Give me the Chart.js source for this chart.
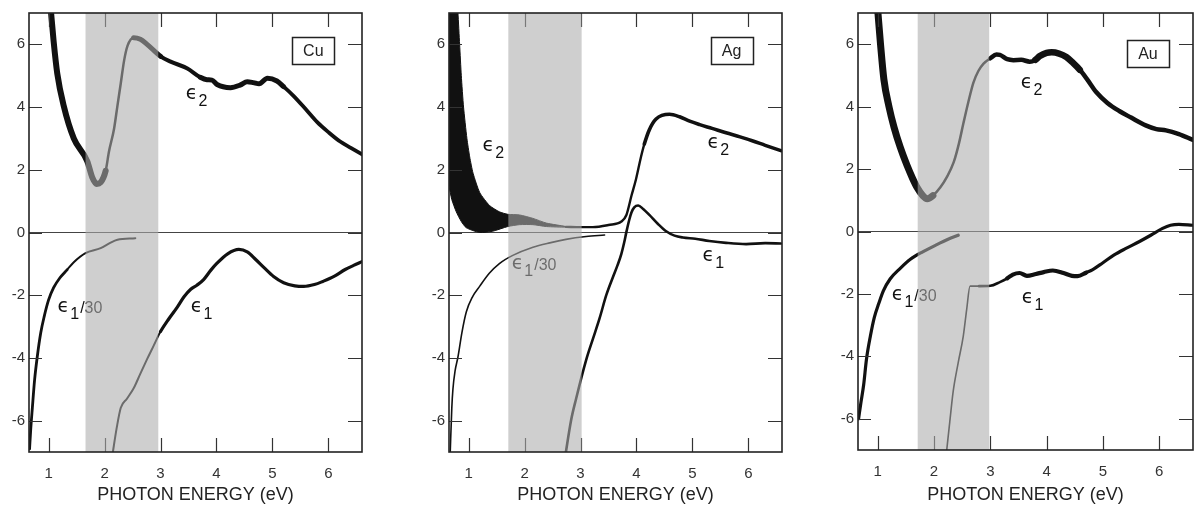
<!DOCTYPE html>
<html>
<head>
<meta charset="utf-8">
<script src="https://cdn.jsdelivr.net/npm/chart.js"></script>
<style>
  body { margin: 0; background: white; }
  #wrap { position: relative; width: 1203px; height: 511px; overflow: hidden; }
  canvas { position: absolute; top: 0; }
</style>
</head>
<body>
<div id="wrap">
  <canvas id="cu" width="400" height="511" style="left:0px"></canvas>
  <canvas id="ag" width="400" height="511" style="left:400px"></canvas>
  <canvas id="au" width="400" height="511" style="left:803px"></canvas>
</div>
<script>
// axis ticks
const energyTicks = [1, 2, 3, 4, 5, 6];
const epsTicks = [-6, -4, -2, 0, 2, 4, 6];

// ---- Cu ----
const cuE2Ev = [1.04, 1.09, 1.155, 1.27, 1.45, 1.69, 1.78, 1.86, 1.93, 2.02, 2.08, 2.17, 2.23, 2.29, 2.35, 2.41, 2.52, 2.64, 2.76, 3.0, 3.18, 3.48, 3.71, 3.83, 3.92, 4.01, 4.25, 4.42, 4.55, 4.66, 4.76, 4.91, 5.08, 5.2, 5.38, 5.6, 5.8, 6.0, 6.21, 6.4, 6.61];
const cuE2 = [7.1, 6.1, 5.07, 4.04, 3.0, 2.28, 1.76, 1.55, 1.6, 1.97, 2.59, 3.31, 4.04, 4.76, 5.49, 5.95, 6.21, 6.16, 6.0, 5.62, 5.45, 5.23, 4.95, 4.87, 4.86, 4.72, 4.62, 4.7, 4.81, 4.78, 4.74, 4.92, 4.83, 4.65, 4.35, 3.92, 3.52, 3.2, 2.9, 2.7, 2.48];
const cuE1d30Ev = [0.66, 0.68, 0.71, 0.75, 0.8, 0.86, 0.92, 1.0, 1.09, 1.2, 1.33, 1.45, 1.66, 1.93, 2.1, 2.23, 2.55];
const cuE1d30 = [-6.9, -6.3, -5.59, -4.7, -3.93, -3.2, -2.69, -2.15, -1.76, -1.45, -1.19, -0.95, -0.66, -0.5, -0.33, -0.23, -0.18];
const cuE1Ev = [2.14, 2.22, 2.29, 2.4, 2.52, 2.64, 2.76, 2.88, 3.0, 3.15, 3.3, 3.42, 3.54, 3.65, 3.77, 3.9, 4.01, 4.2, 4.4, 4.55, 4.7, 4.85, 5.02, 5.2, 5.4, 5.56, 5.75, 5.9, 6.1, 6.3, 6.45, 6.61];
const cuE1 = [-7.1, -6.2, -5.59, -5.3, -4.97, -4.5, -4.04, -3.6, -3.16, -2.75, -2.38, -2.05, -1.81, -1.68, -1.5, -1.2, -0.98, -0.68, -0.54, -0.62, -0.86, -1.12, -1.4, -1.6, -1.7, -1.72, -1.66, -1.56, -1.4, -1.18, -1.05, -0.92];

// ---- Ag ----
const agE2UpperEv = [0.65, 0.8, 0.81, 0.84, 0.87, 0.91, 0.97, 1.02, 1.08, 1.2, 1.375, 1.55, 1.7, 1.91, 2.15, 2.39, 2.74];
const agE2Upper = [10, 7.3, 7.0, 6.0, 5.0, 4.0, 3.0, 2.41, 1.89, 1.27, 0.86, 0.66, 0.58, 0.56, 0.45, 0.3, 0.19];
const agE2LowerEv = [0.65, 0.7, 0.78, 0.87, 0.96, 1.2, 1.43, 1.7, 1.91, 2.15, 2.39, 2.74];
const agE2Lower = [1.48, 1.05, 0.66, 0.35, 0.15, 0.0, 0.04, 0.19, 0.25, 0.25, 0.19, 0.17];
const agE2Ev = [2.74, 3.0, 3.22, 3.5, 3.73, 3.82, 3.91, 3.99, 4.08, 4.14, 4.23, 4.35, 4.59, 4.77, 4.95, 5.13, 5.35, 5.6, 5.85, 6.08, 6.3, 6.58];
const agE2 = [0.18, 0.17, 0.17, 0.24, 0.35, 0.56, 1.17, 1.69, 2.41, 2.82, 3.28, 3.62, 3.77, 3.69, 3.55, 3.44, 3.32, 3.18, 3.05, 2.92, 2.78, 2.61];
const agE1d30Ev = [0.67, 0.7, 0.72, 0.76, 0.81, 0.88, 0.96, 1.07, 1.2, 1.37, 1.55, 1.79, 2.15, 2.45, 2.74, 3.1, 3.43];
const agE1d30 = [-7.1, -5.6, -5.0, -4.4, -3.97, -3.2, -2.53, -2.05, -1.71, -1.3, -0.99, -0.73, -0.47, -0.33, -0.22, -0.13, -0.08];
const agE1Ev = [2.73, 2.83, 2.92, 3.1, 3.22, 3.34, 3.46, 3.58, 3.66, 3.73, 3.78, 3.82, 3.87, 3.91, 3.96, 4.03, 4.12, 4.23, 4.38, 4.53, 4.68, 4.83, 5.05, 5.3, 5.6, 5.96, 6.3, 6.58];
const agE1 = [-7.1, -6.0, -5.31, -4.07, -3.4, -2.74, -2.0, -1.42, -1.05, -0.68, -0.32, 0.02, 0.4, 0.64, 0.8, 0.86, 0.75, 0.56, 0.28, 0.04, -0.1, -0.16, -0.2, -0.27, -0.33, -0.37, -0.34, -0.35];

// ---- Au ----
const auE2Ev = [1.0, 1.05, 1.11, 1.2, 1.29, 1.4, 1.52, 1.62, 1.7, 1.8, 1.88, 1.98, 2.11, 2.23, 2.35, 2.44, 2.52, 2.61, 2.7, 2.79, 2.88, 3.0, 3.11, 3.17, 3.3, 3.41, 3.55, 3.7, 3.8, 3.88, 4.0, 4.09, 4.22, 4.35, 4.47, 4.59, 4.73, 4.88, 5.08, 5.29, 5.5, 5.76, 5.95, 6.12, 6.35, 6.59];
const auE2 = [7.1, 6.0, 4.87, 4.0, 3.34, 2.7, 2.12, 1.7, 1.41, 1.15, 1.05, 1.15, 1.41, 1.75, 2.22, 2.8, 3.45, 4.15, 4.77, 5.15, 5.38, 5.55, 5.67, 5.66, 5.52, 5.49, 5.5, 5.44, 5.5, 5.62, 5.72, 5.74, 5.7, 5.59, 5.4, 5.18, 4.85, 4.47, 4.12, 3.86, 3.65, 3.4, 3.28, 3.24, 3.12, 2.94];
const auE1d30Ev = [0.66, 0.7, 0.75, 0.8, 0.87, 0.94, 1.02, 1.1, 1.22, 1.4, 1.58, 1.8, 2.05, 2.25, 2.43];
const auE1d30 = [-6.0, -5.5, -4.92, -4.1, -3.35, -2.75, -2.3, -1.9, -1.52, -1.18, -0.89, -0.65, -0.42, -0.25, -0.12];
const auE1Ev = [2.22, 2.28, 2.34, 2.43, 2.52, 2.58, 2.64, 2.8, 3.0, 3.17, 3.3, 3.4, 3.52, 3.65, 3.81, 3.95, 4.11, 4.3, 4.45, 4.55, 4.7, 4.82, 5.0, 5.2, 5.4, 5.65, 5.85, 6.06, 6.2, 6.35, 6.59];
const auE1 = [-7.1, -6.1, -5.13, -4.2, -3.35, -2.5, -1.75, -1.75, -1.74, -1.62, -1.5, -1.38, -1.33, -1.42, -1.36, -1.3, -1.25, -1.33, -1.42, -1.43, -1.32, -1.22, -1.0, -0.75, -0.55, -0.32, -0.12, 0.1, 0.2, 0.23, 0.2];

const pts = (xs, ys) => xs.map((x, i) => ({ x: x, y: ys[i] }));

function curve(xs, ys, widthAt) {
  return {
    data: pts(xs, ys),
    showLine: true,
    pointRadius: 0,
    borderColor: '#111',
    borderWidth: 3,
    cubicInterpolationMode: 'monotone',
    borderCapStyle: 'round',
    borderJoinStyle: 'round',
    clip: 0,
    segment: { borderWidth: c => widthAt(c.p0.parsed.x) }
  };
}

// draws eps with a subscript and optional tail like "/30"
function drawEps(ctx, px, py, sub, tail) {
  ctx.fillStyle = '#111';
  ctx.textAlign = 'left';
  ctx.textBaseline = 'alphabetic';
  ctx.font = '19px "DejaVu Sans"';
  ctx.fillText('\u03F5', px, py);
  let w = ctx.measureText('\u03F5').width + 1;
  ctx.font = '16px "Liberation Sans"';
  ctx.fillText(sub, px + w, py + 7);
  w += ctx.measureText(sub).width;
  if (tail) ctx.fillText(tail, px + w + 1, py + 1);
}

const panelDecor = {
  id: 'panelDecor',
  afterDatasetsDraw(chart, args, o) {
    const ctx = chart.ctx, a = chart.chartArea;
    const x = chart.scales.x, y = chart.scales.y;
    ctx.save();
    o.labels.forEach(l => drawEps(ctx, x.getPixelForValue(l.x), y.getPixelForValue(l.y), l.sub, l.tail));

    // element name box
    const bx = x.getPixelForValue(o.box.x), by = y.getPixelForValue(o.box.y);
    ctx.strokeStyle = '#222';
    ctx.lineWidth = 1.5;
    ctx.strokeRect(Math.round(bx - 21) + 0.5, Math.round(by - 13.5) + 0.5, 42, 27);
    ctx.font = '16px "Liberation Sans"';
    ctx.fillStyle = '#222';
    ctx.textAlign = 'center';
    ctx.textBaseline = 'middle';
    ctx.fillText(o.name, bx, by + 1);

    // inward ticks on all four sides
    ctx.strokeStyle = '#333';
    ctx.lineWidth = 1.2;
    ctx.beginPath();
    energyTicks.forEach(v => {
      const px = Math.round(x.getPixelForValue(v)) + 0.5;
      ctx.moveTo(px, a.top); ctx.lineTo(px, a.top + 14);
      ctx.moveTo(px, a.bottom); ctx.lineTo(px, a.bottom - 14);
    });
    epsTicks.forEach(v => {
      const py = Math.round(y.getPixelForValue(v)) + 0.5;
      ctx.moveTo(a.left, py); ctx.lineTo(a.left + 13, py);
      ctx.moveTo(a.right, py); ctx.lineTo(a.right - 14, py);
    });
    ctx.stroke();

    // visible-light band laid over the curves
    const b0 = x.getPixelForValue(o.band[0]), b1 = x.getPixelForValue(o.band[1]);
    ctx.fillStyle = 'rgba(172,172,172,0.58)';
    ctx.fillRect(b0, a.top, b1 - b0, a.bottom - a.top);

    // frame
    ctx.strokeStyle = '#222';
    ctx.lineWidth = 1.6;
    ctx.strokeRect(a.left, a.top, a.right - a.left, a.bottom - a.top);
    ctx.restore();
  }
};

function makePanel(id, cfg) {
  new Chart(document.getElementById(id), {
    type: 'scatter',
    data: { datasets: cfg.datasets },
    options: {
      responsive: false,
      animation: false,
      events: [],
      layout: { padding: { top: cfg.top, right: cfg.right, left: 0, bottom: 0 } },
      plugins: {
        legend: { display: false },
        tooltip: { enabled: false },
        panelDecor: { band: cfg.band, labels: cfg.labels, box: cfg.box, name: cfg.name }
      },
      scales: {
        x: {
          type: 'linear', min: 0.65, max: 6.6,
          afterBuildTicks: s => { s.ticks = energyTicks.map(v => ({ value: v })); },
          afterFit: s => { s.height = cfg.xHeight; },
          grid: { display: false },
          border: { display: false },
          ticks: { padding: 5, color: '#333', font: { family: 'Liberation Sans', size: 15 }, maxRotation: 0 },
          title: { display: true, text: 'PHOTON ENERGY (eV)', color: '#222', font: { family: 'Liberation Sans', size: 18 }, padding: { top: 0, bottom: 5 } }
        },
        y: {
          type: 'linear', min: -7, max: 7,
          afterBuildTicks: s => { s.ticks = epsTicks.map(v => ({ value: v })); },
          afterFit: s => { s.width = cfg.yWidth; },
          grid: { drawTicks: false, lineWidth: 1, color: c => (c.tick && c.tick.value === 0) ? '#444' : 'rgba(0,0,0,0)' },
          border: { display: false },
          ticks: { padding: 4, color: '#333', font: { family: 'Liberation Sans', size: 15 } }
        }
      }
    },
    plugins: [panelDecor]
  });
}

makePanel('cu', {
  name: 'Cu', top: 7, right: 38, yWidth: 29, xHeight: 59, band: [1.66, 2.96],
  box: { x: 5.73, y: 5.8 },
  labels: [
    { x: 3.45, y: 4.25, sub: '2' },
    { x: 3.54, y: -2.52, sub: '1' },
    { x: 1.16, y: -2.52, sub: '1', tail: '/30' }
  ],
  datasets: [
    curve(cuE2Ev, cuE2, e => e < 1.95 ? 6 : e < 2.42 ? 2.5 : e < 2.85 ? 5 : e < 3.6 ? 4 : e < 5.1 ? 5 : 3.8),
    curve(cuE1d30Ev, cuE1d30, e => e < 1.3 ? 2.8 : 2),
    curve(cuE1Ev, cuE1, e => e < 3 ? 2 : 3.2)
  ]
});

makePanel('ag', {
  name: 'Ag', top: 5, right: 18, yWidth: 49, xHeight: 59, band: [1.71, 3.02],
  box: { x: 5.7, y: 5.8 },
  labels: [
    { x: 1.25, y: 2.6, sub: '2' },
    { x: 5.27, y: 2.7, sub: '2' },
    { x: 5.18, y: -0.91, sub: '1' },
    { x: 1.77, y: -1.16, sub: '1', tail: '/30' }
  ],
  datasets: [
    {
      data: pts(agE2UpperEv, agE2Upper).concat(pts(agE2LowerEv, agE2Lower).reverse()),
      showLine: true, pointRadius: 0, borderColor: '#111', backgroundColor: '#111',
      borderWidth: 1, tension: 0.2, fill: 'shape', clip: 0
    },
    curve(agE2Ev, agE2, e => e < 4.1 ? 2.4 : 3.6),
    curve(agE1d30Ev, agE1d30, e => 1.6),
    curve(agE1Ev, agE1, e => 2.6)
  ]
});

makePanel('au', {
  name: 'Au', top: 3, right: 10, yWidth: 55, xHeight: 61, band: [1.71, 2.98],
  box: { x: 5.8, y: 5.71 },
  labels: [
    { x: 3.54, y: 4.59, sub: '2' },
    { x: 3.56, y: -2.3, sub: '1' },
    { x: 1.25, y: -2.21, sub: '1', tail: '/30' }
  ],
  datasets: [
    curve(auE2Ev, auE2, e => e < 1.95 ? 7 : e < 2.95 ? 2.5 : e < 3.75 ? 4.5 : e < 4.5 ? 6.5 : 4.5),
    curve(auE1d30Ev, auE1d30, e => 3.2),
    curve(auE1Ev, auE1, e => e < 2.7 ? 1.6 : e < 3.2 ? 2.6 : e < 4.7 ? 4.2 : 3.2)
  ]
});
</script>
</body>
</html>
